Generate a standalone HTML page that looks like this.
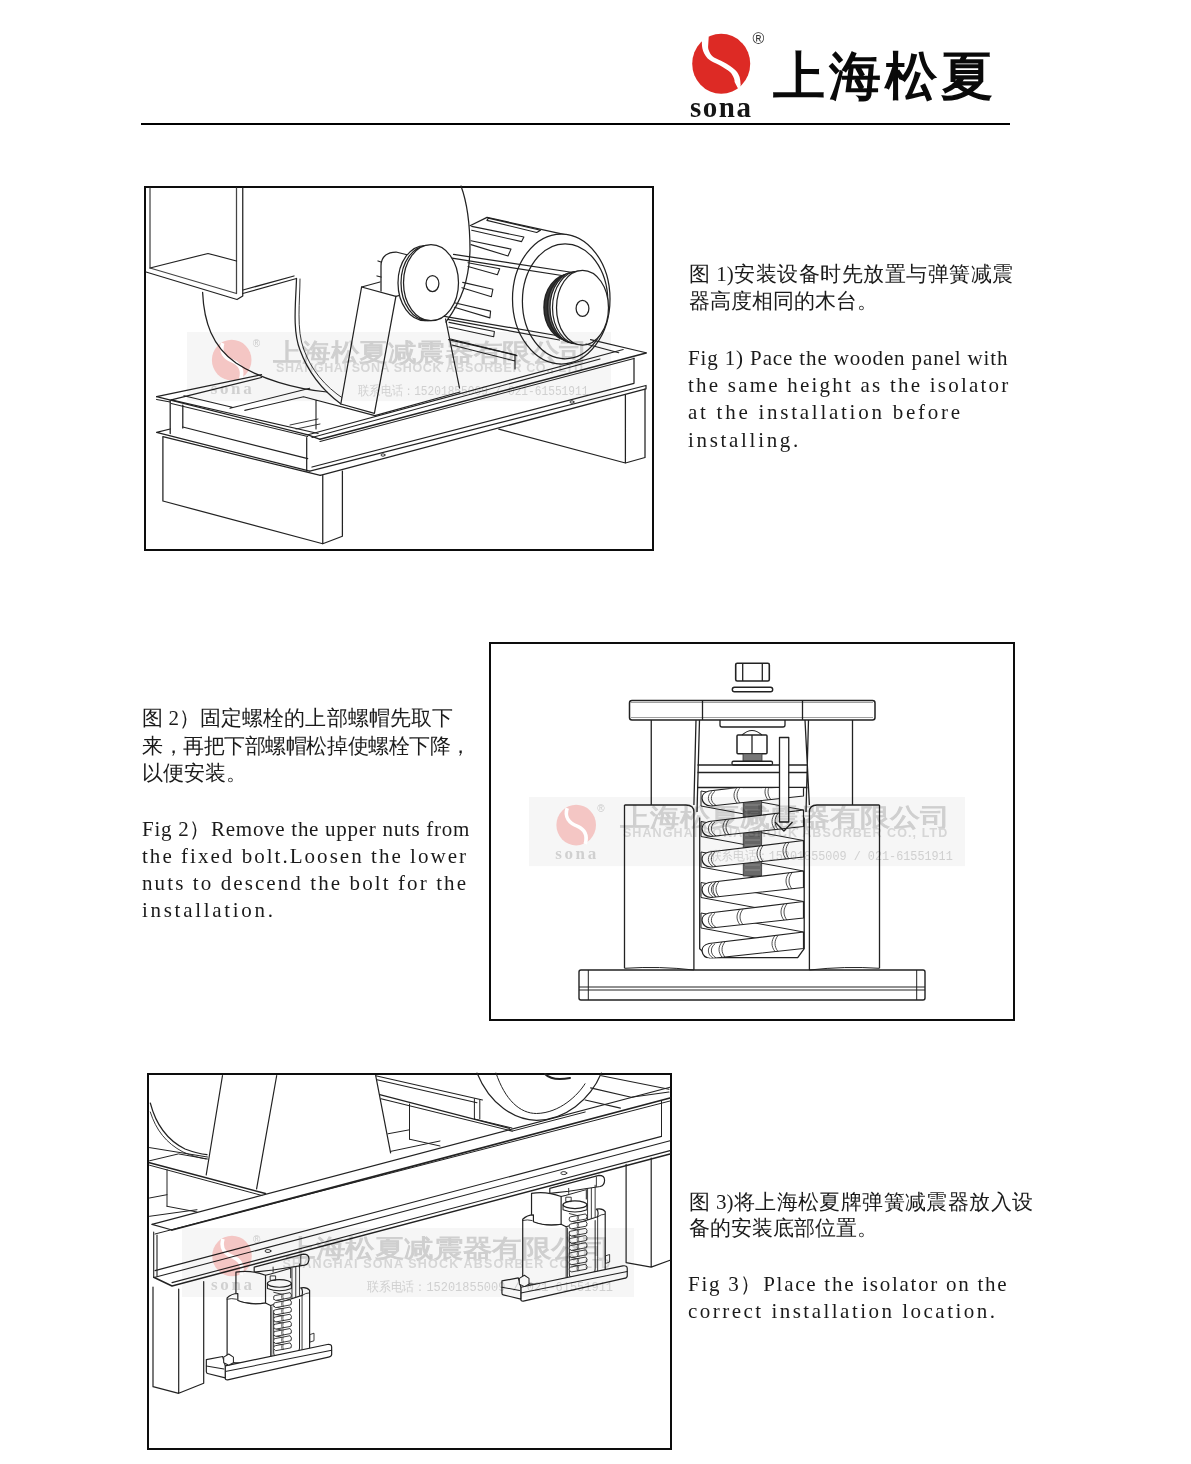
<!DOCTYPE html>
<html><head><meta charset="utf-8">
<style>
html,body{margin:0;padding:0;background:#fff;}
body{width:1191px;height:1464px;position:relative;overflow:hidden;font-family:"Liberation Serif",serif;color:#111;}
.abs{position:absolute;}
.frame{position:absolute;box-sizing:border-box;border:2px solid #0d0d0d;}
.cn{position:absolute;font-size:21px;line-height:27.5px;white-space:nowrap;color:#1a1a1a;}
.en{position:absolute;font-family:"Liberation Serif",serif;font-size:21px;letter-spacing:1.2px;line-height:27.3px;white-space:nowrap;color:#1a1a1a;}
.j{text-align:justify;text-align-last:justify;}
.en.j{word-spacing:-6px;}
.logo-cn{position:absolute;font-size:52px;font-weight:normal;-webkit-text-stroke:1.6px #0a0a0a;letter-spacing:4px;line-height:1;white-space:nowrap;color:#0a0a0a;}
</style></head>
<body>
<div class="abs" style="left:141px;top:123px;width:869px;height:2px;background:#000"></div>
<div class="logo-cn" style="left:773px;top:51px;">上海松夏</div>
<div class="abs" style="left:690px;top:93px;font-size:29px;font-weight:bold;letter-spacing:1.5px;color:#151515;line-height:1;">sona</div>
<div class="abs" style="left:752.5px;top:30.5px;font-size:16px;color:#333;line-height:1;font-family:'Liberation Sans',sans-serif">®</div>

<div class="frame" style="left:144px;top:186px;width:510px;height:365px;"></div>
<div class="frame" style="left:489px;top:642px;width:526px;height:379px;"></div>
<div class="frame" style="left:147px;top:1073px;width:525px;height:377px;"></div>

<div class="cn j" style="left:689px;top:261px;width:324px;">图 1)安装设备时先放置与弹簧减震</div>
<div class="cn" style="left:689px;top:288px;">器高度相同的木台。</div>
<div class="en" style="left:688px;top:345px;letter-spacing:0.872px;">Fig 1) Pace the wooden panel with</div>
<div class="en" style="left:688px;top:372px;letter-spacing:2.220px;">the same height as the isolator</div>
<div class="en" style="left:688px;top:399px;letter-spacing:2.739px;">at the installation before</div>
<div class="en" style="left:688px;top:427px;letter-spacing:2.688px;">installing.</div>

<div class="cn j" style="left:142px;top:705px;width:311px;">图 2）固定螺栓的上部螺帽先取下</div>
<div class="cn" style="left:142px;top:733px;letter-spacing:-0.45px;">来，再把下部螺帽松掉使螺栓下降，</div>
<div class="cn" style="left:142px;top:760px;">以便安装。</div>
<div class="en" style="left:142px;top:816px;letter-spacing:0.718px;">Fig 2）Remove the upper nuts from</div>
<div class="en" style="left:142px;top:843px;letter-spacing:2.033px;">the fixed bolt.Loosen the lower</div>
<div class="en" style="left:142px;top:870px;letter-spacing:2.098px;">nuts to descend the bolt for the</div>
<div class="en" style="left:142px;top:897px;letter-spacing:2.702px;">installation.</div>

<div class="cn j" style="left:689px;top:1189px;width:344px;">图 3)将上海松夏牌弹簧减震器放入设</div>
<div class="cn" style="left:689px;top:1215px;">备的安装底部位置。</div>
<div class="en" style="left:688px;top:1271px;letter-spacing:1.738px;">Fig 3）Place the isolator on the</div>
<div class="en" style="left:688px;top:1298px;letter-spacing:2.483px;">correct installation location.</div>
<svg width="1191" height="1464" viewBox="0 0 1191 1464" style="position:absolute;left:0;top:0;font-family:'Liberation Sans',sans-serif"><g id="logo">
  <ellipse cx="721.2" cy="63.8" rx="29" ry="30" fill="#dd2a25"/>
  <path d="M702.5,37C701,45 702,52 707.7,58.6C711,61.5 713,62.3 716.1,63.6C720,65.5 722,66.8 725.3,68.7C729,71 731,72.5 732,74.5C734,78 734.8,80 734.6,82.1L738.8,90C740.5,86 741,85 740.5,83.8C740.5,81 740,79 739.6,77C738,73 736.5,71 734.6,69.5C731,66.5 729,65.5 726.2,63.6C722,61 720,60.5 716.1,58.6C713,57 711.5,55.5 710.2,53.5C708.5,50.5 708,48 708.1,46.8L708.7,37Z" fill="#fff"/>
  <path d="M738.5,39L741.5,42.8L745,38Z M697,90L701,85.5L703.9,88.5Z" fill="#fff"/>
</g>

<g id="d1" fill="none" stroke="#222" stroke-width="1.25" stroke-linejoin="round" stroke-linecap="round">
  <!-- duct box -->
  <path d="M150,188V268L236.5,293.5V188" stroke="#444"/>
  <path d="M146,272L237,299.5L242.75,296V188"/>
  <path d="M150,268L208,253.5L236.5,261"/>
  <path d="M242.75,293.5L296.5,278.5M243,290L294,276"/>
  <!-- scroll curves -->
  <path d="M296.5,278.5C296,300 292,330 300,350C308,372 322,390 341,404"/>
  <path d="M300,279C300,300 296,330 304,350C311,369 324,386 344,399" stroke-width="0.9"/>
  <path d="M202.6,292.4C204,322 212,346 236,363C260,379 295,389 327,392"/>
  <path d="M461,186C468,205 470,225 470,250C469,280 462,300 446,322"/>
  <!-- stand -->
  <path d="M361.6,287L340.8,404L374.4,413.3L395.9,296.4Z" fill="#fff"/>
  <path d="M361.6,287L380,282M395.9,296.4L403,294.5"/>
  <path d="M445.6,319L459.5,388"/>
  <!-- bearing housing -->
  <path d="M381,291V266C381,256 388,252 396,252L408,255" fill="#fff"/>
  <path d="M381,262L378,261M377,276L381,277"/>
  <!-- motor -->
  <path d="M470,225.7L487,217.4L573,236.3"/>
  <path d="M450.6,339L517,355.7M452,345L515,361M515,356V369" stroke-width="1.1"/>
  <ellipse cx="561.25" cy="299" rx="48.75" ry="65" fill="#fff"/>
  <ellipse cx="565.1" cy="301.3" rx="42.7" ry="57.5"/>
  <g stroke-width="1.1">
    <path d="M488.4,218.1L540.5,230.2L536.7,232.5L486.9,220.4Z"/>
    <path d="M471.7,226.4L523.9,237L521.6,241.6L471.7,230.2"/>
    <path d="M471,240.8L511,249.1L508,256L471,244.6"/>
    <path d="M468,262.7L499.7,268.8L497.4,274.8L468,266.5"/>
    <path d="M462.7,282.4L492.9,289.2L491.4,296.7L461.9,287.7"/>
    <path d="M454.4,302.8L490.6,311.1L489.9,317.9L454.4,307.3"/>
    <path d="M449,322.4L494.4,331.5L493.7,336.8L449,327"/>
  </g>
  <!-- belts -->
  <path d="M453.6,254.4L573,272.5M452,258.2L571.5,277"/>
  <path d="M440,315.6L559.4,336M447.6,319.4L559.4,340"/>
  <!-- pulleys -->
  <ellipse cx="425" cy="283" rx="27" ry="37.5" fill="#fff"/>
  <ellipse cx="428" cy="283" rx="27" ry="37.5" fill="#fff"/>
  <ellipse cx="431" cy="282.7" rx="27.5" ry="38" fill="#fff"/>
  <ellipse cx="432.5" cy="283.6" rx="6.4" ry="8"/>
  <ellipse cx="569" cy="307.5" rx="25" ry="33" fill="#333" stroke-width="1.5"/>
  <ellipse cx="573.5" cy="307.5" rx="26" ry="35" fill="#666" stroke-width="1.5"/>
  <ellipse cx="576" cy="307.6" rx="26" ry="36" fill="#fff" stroke-width="1.2"/>
  <ellipse cx="578.5" cy="307.7" rx="26" ry="36.5" fill="#fff" stroke-width="1.2"/>
  <ellipse cx="582.5" cy="307.7" rx="26" ry="37.4" fill="#fff"/>
  <ellipse cx="582.5" cy="308.4" rx="6.4" ry="8"/>
  <!-- frame: back rail & crossbars -->
  <path d="M156.6,396.7L261.5,374.7M171.3,399.9L261.5,377.5"/>
  <path d="M183.9,395.7L232.2,407.2M230,408.3L309.8,388.3M244.8,410.4L303.5,396.7M303.5,396.7L374.9,415.6M316,400V429" stroke-width="1.1"/>
  <path d="M290,425L318,419M296,429L320,424" stroke-width="0.9"/>
  <path d="M448.6,339.6L516,355M590.5,339.6L646.1,352.7M586,344L618.8,352.7M374.9,415.6L460,392" stroke-width="1.1"/>
  <!-- left short rail -->
  <path d="M156.6,396.7L308,434.8M156.6,399.5L170.2,402"/>
  <path d="M171.3,399.9L318.2,433.5M171.3,403.5L307.7,436.5" stroke-width="1.1"/>
  <path d="M170.2,400V433.5M182.8,405V428"/>
  <path d="M182.8,427L307.7,458.7"/>
  <path d="M156.6,432.4L309.8,471.2M162.9,436.6L320.3,475.4M156.6,432.4L170.2,429"/>
  <path d="M306.7,437.7V471.2"/>
  <!-- front long rail -->
  <path d="M320,439.3L646.1,353" stroke-width="1.6"/>
  <path d="M308,434.8L320,439.3"/>
  <path d="M320,441.5L634,358.5M308,434.8L623.2,349.5M312,437.5L600,359" stroke-width="1.1"/>
  <path d="M312,467L634,383.3M634,358.2V383.3"/>
  <path d="M309.8,471.2L646,385.5M320.3,475.4L646,388.8L646,385.5"/>
  <ellipse cx="572" cy="402" rx="2" ry="1.2" stroke-width="0.9"/>
  <ellipse cx="383" cy="455" rx="2" ry="1.2" stroke-width="0.9"/>
  <!-- blocks -->
  <path d="M162.9,437V501L322.75,543.75V475.4M322.75,543.75L342.4,536.25V471"/>
  <path d="M498.8,429.1L625.4,463L645,457.5V389M625.4,463V395.3"/>
</g>

<g id="d2" fill="none" stroke="#222" stroke-width="1.3" stroke-linejoin="round">
  <!-- top nut & washer -->
  <rect x="735.7" y="663.3" width="33.6" height="17.7" rx="1.5" stroke-width="1.6"/>
  <path d="M742.7,663.3V681M762.3,663.3V681"/>
  <rect x="732.3" y="687.3" width="40.4" height="4.4" rx="2.2" stroke-width="1.4"/>
  <!-- top plate -->
  <rect x="629.5" y="700.5" width="245.5" height="19.5" rx="2.5" stroke-width="1.5"/>
  <path d="M631,702.5H873M631,717.5H873" stroke-width="0.7" stroke="#777"/>
  <path d="M702.5,700.5V720M802.5,700.5V720"/>
  <path d="M720,720V725Q720,727 722,727H783Q785,727 785,725V720"/>
  <!-- upper housing -->
  <path d="M651.25,720V805M852.5,720V805"/>
  <path d="M696,720L693.9,805M699.5,720L697,812M805,720L809.4,805M808.5,720L806,812"/>
  <!-- bolt nut -->
  <path d="M742,735Q752,726 762,735" stroke-width="1.1"/>
  <rect x="737" y="735" width="30" height="18.75" rx="1" stroke-width="1.5"/>
  <path d="M752,735V753.75"/>
  <rect x="743" y="753.75" width="19" height="7.5" fill="#777" stroke="#333" stroke-width="0.8"/>
  <rect x="732" y="761.25" width="40.5" height="3.75" rx="1.5" stroke-width="1.3"/>
  <!-- spring top plate -->
  <path d="M697.5,765H807.5M697.5,772.5H807.5M697.5,787.5H807.5"/>
  <!-- lower housing -->
  <path d="M624.5,805V968.3M879.5,805V968.3"/>
  <path d="M624.5,805H686Q693.9,805 693.9,812M879.5,805H817Q809.4,805 809.4,812"/>
  <path d="M693.9,812V970M809.4,812V970"/>
  <path d="M699.7,817.6V948.7L709.5,957.7H797.7L804.2,948.7V817.6"/>
  <path d="M624.5,968.3Q660,966 693.9,970M879.5,968.3Q845,966 809.4,970" stroke-width="1"/>
  <!-- spring coils -->
<clipPath id="spc"><rect x="699" y="788.2" width="106" height="170"/></clipPath><g stroke="#222" fill="none" stroke-linejoin="round" clip-path="url(#spc)"><path d="M701.0,760.5L803.5,779.5L803.5,794.5L701.0,775.5Z" fill="#fff" stroke-width="1"/>
<path d="M701.0,791.0L803.5,810.0L803.5,825.0L701.0,806.0Z" fill="#fff" stroke-width="1"/>
<path d="M701.0,821.5L803.5,840.5L803.5,855.5L701.0,836.5Z" fill="#fff" stroke-width="1"/>
<path d="M701.0,852.0L803.5,871.0L803.5,886.0L701.0,867.0Z" fill="#fff" stroke-width="1"/>
<path d="M701.0,882.5L803.5,901.5L803.5,916.5L701.0,897.5Z" fill="#fff" stroke-width="1"/>
<path d="M701.0,913.0L803.5,932.0L803.5,947.0L701.0,928.0Z" fill="#fff" stroke-width="1"/>
<rect x="743.3" y="766" width="18.3" height="110" fill="#6a6a6a" stroke="#333" stroke-width="0.8"/>
<path d="M745,770H760M745,775H760M745,780H760M745,785H760M745,790H760M745,795H760M745,800H760M745,805H760M745,810H760M745,815H760M745,820H760M745,825H760M745,830H760M745,835H760M745,840H760M745,845H760M745,850H760M745,855H760M745,860H760M745,865H760M745,870H760" stroke="#aaa" stroke-width="0.6"/>
<path d="M709,791.0L803.5,779.5V796.0L711,806.0C700,805.0 699,793.0 709,791.0Z" fill="#fff" stroke-width="1.2"/>
<path d="M712,791.5C707,795.0 707,802.0 713,805.5M715,791.3C710,795.0 710,802.0 716,805.3" stroke-width="0.8"/>
<path d="M737,787.6C733,792.6 733,798.0 737,803.0M740,787.6C736,792.6 736,798.0 740,803.0" stroke-width="0.8"/>
<path d="M768,783.8C764,788.8 764,794.8 768,799.8M771,783.8C767,788.8 767,794.8 771,799.8" stroke-width="0.8"/>
<path d="M709,821.5L803.5,810.0V826.5L711,836.5C700,835.5 699,823.5 709,821.5Z" fill="#fff" stroke-width="1.2"/>
<path d="M712,822.0C707,825.5 707,832.5 713,836.0M715,821.8C710,825.5 710,832.5 716,835.8" stroke-width="0.8"/>
<path d="M726,819.4C722,824.4 722,829.7 726,834.7M729,819.4C725,824.4 725,829.7 729,834.7" stroke-width="0.8"/>
<path d="M775,813.5C771,818.5 771,824.5 775,829.5M778,813.5C774,818.5 774,824.5 778,829.5" stroke-width="0.8"/>
<path d="M709,852.0L803.5,840.5V857.0L711,867.0C700,866.0 699,854.0 709,852.0Z" fill="#fff" stroke-width="1.2"/>
<path d="M712,852.5C707,856.0 707,863.0 713,866.5M715,852.3C710,856.0 710,863.0 716,866.3" stroke-width="0.8"/>
<path d="M760,845.8C756,850.8 756,856.6 760,861.6M763,845.8C759,850.8 759,856.6 763,861.6" stroke-width="0.8"/>
<path d="M786,842.6C782,847.6 782,853.9 786,858.9M789,842.6C785,847.6 785,853.9 789,858.9" stroke-width="0.8"/>
<path d="M709,882.5L803.5,871.0V887.5L711,897.5C700,896.5 699,884.5 709,882.5Z" fill="#fff" stroke-width="1.2"/>
<path d="M712,883.0C707,886.5 707,893.5 713,897.0M715,882.8C710,886.5 710,893.5 716,896.8" stroke-width="0.8"/>
<path d="M716,881.6C712,886.6 712,891.8 716,896.8M719,881.6C715,886.6 715,891.8 719,896.8" stroke-width="0.8"/>
<path d="M789,872.8C785,877.8 785,884.0 789,889.0M792,872.8C788,877.8 788,884.0 792,889.0" stroke-width="0.8"/>
<path d="M709,913.0L803.5,901.5V918.0L711,928.0C700,927.0 699,915.0 709,913.0Z" fill="#fff" stroke-width="1.2"/>
<path d="M712,913.5C707,917.0 707,924.0 713,927.5M715,913.3C710,917.0 710,924.0 716,927.3" stroke-width="0.8"/>
<path d="M740,909.2C736,914.2 736,919.7 740,924.7M743,909.2C739,914.2 739,919.7 743,924.7" stroke-width="0.8"/>
<path d="M784,903.9C780,908.9 780,915.1 784,920.1M787,903.9C783,908.9 783,915.1 787,920.1" stroke-width="0.8"/>
<path d="M709,943.5L803.5,932.0V948.5L711,958.5C700,957.5 699,945.5 709,943.5Z" fill="#fff" stroke-width="1.2"/>
<path d="M712,944.0C707,947.5 707,954.5 713,958.0M715,943.8C710,947.5 710,954.5 716,957.8" stroke-width="0.8"/>
<path d="M722,941.9C718,946.9 718,952.1 722,957.1M725,941.9C721,946.9 721,952.1 725,957.1" stroke-width="0.8"/>
<path d="M775,935.5C771,940.5 771,946.5 775,951.5M778,935.5C774,940.5 774,946.5 778,951.5" stroke-width="0.8"/></g>
  <!-- allen key -->
  <path d="M779.5,737.5H788.75V822H779.5Z" fill="#fff" stroke-width="1.3"/>
  <path d="M775,822L783.9,831L792.5,822" stroke-width="1.3"/>
  <!-- base plate -->
  <rect x="579" y="970" width="346" height="30" rx="2" stroke-width="1.4"/>
  <path d="M579,987H925M579,990H925" stroke-width="1.1"/>
  <path d="M588.3,970V1000M916.7,970V1000" stroke-width="1"/>
</g>

<g id="d3" fill="none" stroke="#222" stroke-width="1.2" stroke-linejoin="round" stroke-linecap="round">
  <!-- fan scroll -->
  <path d="M150.3,1103C156,1125 167,1140 185,1149C193,1152 200,1154 207,1154.7"/>
  <path d="M150.3,1112C156,1130 166,1143 183,1152C192,1156 200,1158 206,1159" stroke-width="0.9"/>
  <!-- stand -->
  <path d="M222.5,1075.5L206.2,1175M276.7,1075.5L256.6,1188.9"/>
  <path d="M375.7,1075.7L390.6,1152.8"/>
  <!-- left back structure -->
  <path d="M149.5,1162.7L265.4,1193.5" stroke-width="1.6"/>
  <path d="M149.5,1165.2L262,1195.5M149.5,1147.6L207.5,1157M149.5,1160.8L178.5,1153.9L207.5,1159" stroke-width="1"/>
  <path d="M167,1169.7V1206.3M149.5,1198L167,1194.7M149.5,1216.3L197,1209.7M167,1206.3L197,1212" stroke-width="1"/>
  <!-- back rail -->
  <path d="M375.7,1075.7L482.5,1100M377,1079.8L477,1102.7M379.7,1094.6L509.5,1128.4M381,1098.7L512.2,1131.1" stroke-width="1.1"/>
  <path d="M474.4,1098.7V1119M479.8,1100V1119M474.4,1119L512,1128" stroke-width="1"/>
  <path d="M409.5,1104V1139.2M387.9,1133.8L409.5,1129.8M390.6,1151.4L440,1141M409.5,1139.2L440,1146" stroke-width="1"/>
  <!-- motor -->
  <path d="M477,1073C490,1105 515,1120 536.5,1120.3C565,1120 590,1100 601.4,1073"/>
  <path d="M496,1073C505,1100 520,1113.5 536.5,1113.5C560,1113 578,1095 585,1083.8" stroke-width="1"/>
  <path d="M545,1074C550,1079 560,1080 570,1078" stroke-width="2"/>
  <!-- back right rail -->
  <path d="M601.4,1075.7L669,1089.2M590.6,1087.9L631.2,1097.3M585.2,1100L620.4,1108.1M631.2,1097.3L669,1092" stroke-width="1.1"/>
  <path d="M512.2,1131.1L585.2,1112" stroke-width="1"/>
  <!-- front I-beam rail -->
  <path d="M152,1224.4L670,1087.2" stroke-width="1.1"/>
  <path d="M172,1230L670,1098" stroke-width="1.8"/>
  <path d="M155,1234L670,1101" stroke-width="1"/>
  <path d="M152,1224.4L172,1230M153.7,1232V1277.3M157,1235V1276" stroke-width="1.1"/>
  <path d="M155,1270.6L661.5,1136.4M155,1277.3L670,1140.8" stroke-width="1.1"/>
  <path d="M172,1282.6L670,1150.6" stroke-width="1.1"/>
  <path d="M153.7,1277.3L172,1286L670,1154" stroke-width="1.5"/>
  <path d="M661.5,1101V1136.4" stroke-width="1"/>
  <ellipse cx="268" cy="1251" rx="3" ry="1.5" stroke-width="0.9"/>
  <ellipse cx="563.8" cy="1173.1" rx="3" ry="1.5" stroke-width="0.9"/>
  <!-- legs -->
  <path d="M153,1287V1386.7L178.7,1393.3L203.7,1383.3V1281.6M178.7,1393.3V1289"/>
  <path d="M626.1,1164.4V1262.6L651.2,1267.1L670,1260.3M651.2,1267.1V1158"/>
  <!-- isolators -->
  <g id="iso1" transform="translate(195,1240) scale(0.12594)">
    <g vector-effect="non-scaling-stroke" stroke-width="9.5">
      <path d="M470,215L860,112Q905,112 905,150Q905,190 870,200L620,238Q560,245 470,255Z" fill="#fff"/>
      <path d="M620,215V255M840,125V200" stroke-width="7"/>
      <path d="M325,255Q440,235 560,280V500Q440,520 325,480Z" fill="#fff"/>
      <path d="M560,280L600,270L760,225V300" stroke-width="8"/>
      <ellipse cx="670" cy="345" rx="95" ry="30" fill="#fff"/>
      <path d="M575,345V385Q670,420 765,385V345" stroke-width="8"/>
      <path d="M600,285H640V320H600Z" stroke-width="7"/>
      <path d="M770,220V600M800,215V480M830,190V440" stroke-width="7"/>
      <path d="M255,460Q290,425 340,425L340,480Q440,520 560,500L600,520L850,440Q860,390 840,380Q890,370 910,400V880L600,960Q430,990 255,970Z" fill="#fff"/>
      <path d="M255,470Q290,460 330,470M850,440Q880,420 905,420" stroke-width="7"/>
      <path d="M600,520V960M850,440V900M610,530V960" stroke-width="7"/>
      <path d="M625,560V895Q625,925 650,920L800,895Q830,885 830,855V470" stroke-width="8"/>
      <g stroke-width="7" fill="#fff">
        <path d="M625,415L765,450" fill="none"/>
        <path d="M625,472L765,507" fill="none"/>
        <path d="M625,529L765,564" fill="none"/>
        <path d="M625,586L765,621" fill="none"/>
        <path d="M625,643L765,678" fill="none"/>
        <path d="M625,700L765,735" fill="none"/>
        <path d="M625,757L765,792" fill="none"/>
        <path d="M625,814L765,849" fill="none"/>
        <path d="M640,440L755,418Q775,435 760,458L640,480Q615,465 625,448Z"/>
        <path d="M690,432Q682,454 692,472M700,430Q692,452 702,470" fill="none" stroke-width="5"/>
        <path d="M640,497L755,475Q775,492 760,515L640,537Q615,522 625,505Z"/>
        <path d="M690,489Q682,511 692,529M700,487Q692,509 702,527" fill="none" stroke-width="5"/>
        <path d="M640,554L755,532Q775,549 760,572L640,594Q615,579 625,562Z"/>
        <path d="M690,546Q682,568 692,586M700,544Q692,566 702,584" fill="none" stroke-width="5"/>
        <path d="M640,611L755,589Q775,606 760,629L640,651Q615,636 625,619Z"/>
        <path d="M690,603Q682,625 692,643M700,601Q692,623 702,641" fill="none" stroke-width="5"/>
        <path d="M640,668L755,646Q775,663 760,686L640,708Q615,693 625,676Z"/>
        <path d="M690,660Q682,682 692,700M700,658Q692,680 702,698" fill="none" stroke-width="5"/>
        <path d="M640,725L755,703Q775,720 760,743L640,765Q615,750 625,733Z"/>
        <path d="M690,717Q682,739 692,757M700,715Q692,737 702,755" fill="none" stroke-width="5"/>
        <path d="M640,782L755,760Q775,777 760,800L640,822Q615,807 625,790Z"/>
        <path d="M690,774Q682,796 692,814M700,772Q692,794 702,812" fill="none" stroke-width="5"/>
        <path d="M640,839L755,817Q775,834 760,857L640,879Q615,864 625,847Z"/>
        <path d="M690,831Q682,853 692,871M700,829Q692,851 702,869" fill="none" stroke-width="5"/>
      </g>
      <path d="M240,1000L1050,830Q1085,825 1085,850V910Q1085,925 1060,930L260,1110Q240,1112 240,1095Z" fill="#fff"/>
      <path d="M240,1045L1085,875" stroke-width="8"/>
      <path d="M90,950L220,925L240,1000V1095L100,1060Q90,1058 90,1045Z" fill="#fff"/>
      <path d="M90,1000L230,1025" stroke-width="8"/>
      <path d="M228,930L268,905L305,930V975L268,995L228,975Z" fill="#fff" stroke-width="8"/>
      <path d="M915,750L945,740V800L915,810Z" fill="#fff" stroke-width="7"/>
    </g>
  </g>
  <use href="#iso1" transform="translate(295.6,-78.7)"/>
</g>
<g style="mix-blend-mode:multiply"><rect x="187" y="332.1" width="424" height="69" fill="#f6f6f6"/>
<ellipse cx="231.7" cy="360.1" rx="19.8" ry="20.3" fill="#f4c6c4"/>
<path d="M222.7,343.1C219.7,352.1 224.7,358.1 232.7,361.1C239.7,364.1 243.7,369.1 240.7,379.1" stroke="#fff" stroke-width="3.6" fill="none"/>
<text x="252.7" y="347.1" font-size="10" fill="#cbcbcb" font-family="Liberation Sans">®</text>
<text x="210.7" y="393.70000000000005" font-size="17" font-weight="bold" fill="#d0d0d0" font-family="Liberation Serif" textLength="41" lengthAdjust="spacing">sona</text>
<text x="273.3" y="360.6" font-size="25" fill="#cfcfcf" stroke="#cfcfcf" stroke-width="0.9" textLength="314.7" lengthAdjust="spacingAndGlyphs">上海松夏减震器有限公司</text>
<text x="276" y="372.1" font-size="12.5" font-weight="bold" fill="#d6d6d6" font-family="Liberation Sans" textLength="307" lengthAdjust="spacing">SHANGHAI SONA SHOCK ABSORBER CO., LTD</text>
<text x="358.3" y="394.6" font-size="13" fill="#d0d0d0" font-family="Liberation Mono" textLength="230.09999999999997" lengthAdjust="spacingAndGlyphs">联系电话：15201855009 / 021-61551911</text></g>
<g style="mix-blend-mode:multiply"><rect x="529" y="797.1" width="436" height="69" fill="#f6f6f6"/>
<ellipse cx="576.2" cy="825.1" rx="19.8" ry="20.3" fill="#f4c6c4"/>
<path d="M567.2,808.1C564.2,817.1 569.2,823.1 577.2,826.1C584.2,829.1 588.2,834.1 585.2,844.1" stroke="#fff" stroke-width="3.6" fill="none"/>
<text x="597.2" y="812.1" font-size="10" fill="#cbcbcb" font-family="Liberation Sans">®</text>
<text x="555.2" y="858.7" font-size="17" font-weight="bold" fill="#d0d0d0" font-family="Liberation Serif" textLength="41" lengthAdjust="spacing">sona</text>
<text x="620.1" y="825.6" font-size="25" fill="#cfcfcf" stroke="#cfcfcf" stroke-width="0.9" textLength="329.9" lengthAdjust="spacingAndGlyphs">上海松夏减震器有限公司</text>
<text x="622.9" y="837.1" font-size="12.5" font-weight="bold" fill="#d6d6d6" font-family="Liberation Sans" textLength="324.4" lengthAdjust="spacing">SHANGHAI SONA SHOCK ABSORBER CO., LTD</text>
<text x="709.7" y="859.6" font-size="13" fill="#d0d0d0" font-family="Liberation Mono" textLength="243.0999999999999" lengthAdjust="spacingAndGlyphs">联系电话：15201855009 / 021-61551911</text></g>
<g style="mix-blend-mode:multiply"><rect x="182" y="1228" width="452" height="69" fill="#f6f6f6"/>
<ellipse cx="232" cy="1256" rx="19.8" ry="20.3" fill="#f4c6c4"/>
<path d="M223,1239C220,1248 225,1254 233,1257C240,1260 244,1265 241,1275" stroke="#fff" stroke-width="3.6" fill="none"/>
<text x="253" y="1243" font-size="10" fill="#cbcbcb" font-family="Liberation Sans">®</text>
<text x="211" y="1289.6" font-size="17" font-weight="bold" fill="#d0d0d0" font-family="Liberation Serif" textLength="41" lengthAdjust="spacing">sona</text>
<text x="286.2" y="1256.5" font-size="25" fill="#cfcfcf" stroke="#cfcfcf" stroke-width="0.9" textLength="324.09999999999997" lengthAdjust="spacingAndGlyphs">上海松夏减震器有限公司</text>
<text x="282.5" y="1268" font-size="12.5" font-weight="bold" fill="#d6d6d6" font-family="Liberation Sans" textLength="327.5" lengthAdjust="spacing">SHANGHAI SONA SHOCK ABSORBER CO., LTD</text>
<text x="366.6" y="1290.5" font-size="13" fill="#d0d0d0" font-family="Liberation Mono" textLength="246.39999999999998" lengthAdjust="spacingAndGlyphs">联系电话：15201855009 / 021-61551911</text></g>
</svg></body></html>
